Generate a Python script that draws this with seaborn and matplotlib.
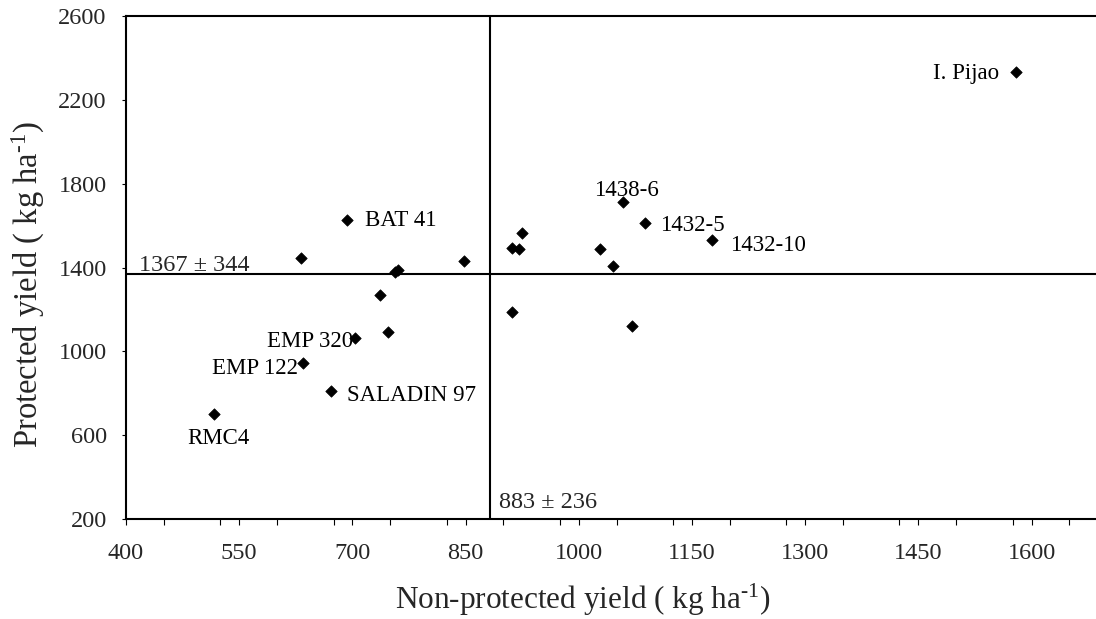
import matplotlib
matplotlib.use("Agg")
import matplotlib.pyplot as plt
from matplotlib.ticker import MultipleLocator
import seaborn as sns
import pandas as pd

# ---- data ----
non_protected = [632, 693, 756, 760, 848, 911, 921, 925, 1028, 737, 1580,
                 1059, 1088, 1176, 1046, 747, 704, 634, 671, 517, 912, 1071]
protected = [1447, 1627, 1378, 1390, 1431, 1494, 1487, 1566, 1487, 1269, 2331,
             1711, 1611, 1531, 1409, 1094, 1062, 946, 812, 701, 1186, 1122]
names = ["", "BAT 41", "", "", "", "", "", "", "", "", "I. Pijao",
         "1438-6", "1432-5", "1432-10", "", "", "EMP 320", "EMP 122",
         "SALADIN 97", "RMC4", "", ""]
mean_x_label = "883 ± 236"
mean_y_label = "1367 ± 344"
mean_x = 883
mean_y = 1367
x_ticks = [400, 550, 700, 850, 1000, 1150, 1300, 1450, 1600]
y_ticks = [200, 600, 1000, 1400, 1800, 2200, 2600]

df = pd.DataFrame({"x": non_protected, "y": protected, "name": names})

sns.set_style("ticks")
plt.rcParams["font.family"] = ["Liberation Serif", "DejaVu Serif"]
plt.rcParams["mathtext.fontset"] = "custom"
plt.rcParams["mathtext.rm"] = "Liberation Serif"
plt.rcParams["mathtext.it"] = "Liberation Serif:italic"

fig = plt.figure(figsize=(10.96, 6.19), dpi=100)
ax = fig.add_axes([126 / 1096, 1 - 519 / 619, 981 / 1096, 503 / 619])

sns.scatterplot(data=df, x="x", y="y", marker="D", color="black",
                edgecolor="black", s=34, linewidth=0.5, ax=ax, zorder=3)

ax.axvline(mean_x, color="black", lw=1.5, zorder=2)
ax.axhline(mean_y, color="black", lw=1.5, zorder=2)

ax.set_xlim(400, 1700)
ax.set_ylim(200, 2600)
ax.set_xticks(x_ticks)
ax.xaxis.set_minor_locator(MultipleLocator(75))
ax.set_yticks(y_ticks)

for s in ["left", "bottom", "top"]:
    ax.spines[s].set_linewidth(1.5)
    ax.spines[s].set_color("black")
ax.spines["right"].set_visible(False)

ax.tick_params(axis="x", which="both", direction="out", length=4.3, width=0.8,
               color="black", pad=13, labelsize=17.5)
ax.tick_params(axis="y", which="both", direction="out", length=2.9, width=0.8,
               color="black", pad=11, labelsize=17.5)

ax.set_xlabel(r"Non-protected yield ( kg ha$^{\text{-1}}$)", fontsize=22.5,
              va="center")
ax.xaxis.set_label_coords((583 - 126) / 981, (519 - 600) / 503)
ax.set_ylabel(r"Protected yield ( kg ha$^{\text{-1}}$)", fontsize=23.5,
              va="center")
ax.yaxis.set_label_coords((28 - 126) / 981, (519 - 285) / 503)

# point labels: offset in pixels and alignment
label_style = {
    "BAT 41": ((18, -1), "left", "center"),
    "I. Pijao": ((-17, -1), "right", "center"),
    "1438-6": ((3, 6), "center", "baseline"),
    "1432-5": ((15, -2), "left", "center"),
    "1432-10": ((18, -5), "left", "center"),
    "EMP 320": ((-2, -3), "right", "center"),
    "EMP 122": ((-5, -6), "right", "center"),
    "SALADIN 97": ((16, -5), "left", "center"),
    "RMC4": ((4, -25), "center", "center"),
}
for xv, yv, nm in zip(non_protected, protected, names):
    if nm:
        off, ha, va = label_style[nm]
        ax.annotate(nm, xy=(xv, yv), xytext=off, textcoords="offset pixels",
                    ha=ha, va=va, fontsize=16.5, color="black")

ax.annotate(mean_y_label, xy=(400, mean_y), xytext=(13, 3),
            textcoords="offset pixels", ha="left", va="baseline", fontsize=17.5)
ax.annotate(mean_x_label, xy=(mean_x, 200), xytext=(9, 11),
            textcoords="offset pixels", ha="left", va="baseline", fontsize=17.5)

fig.savefig("out.png", dpi=100)
